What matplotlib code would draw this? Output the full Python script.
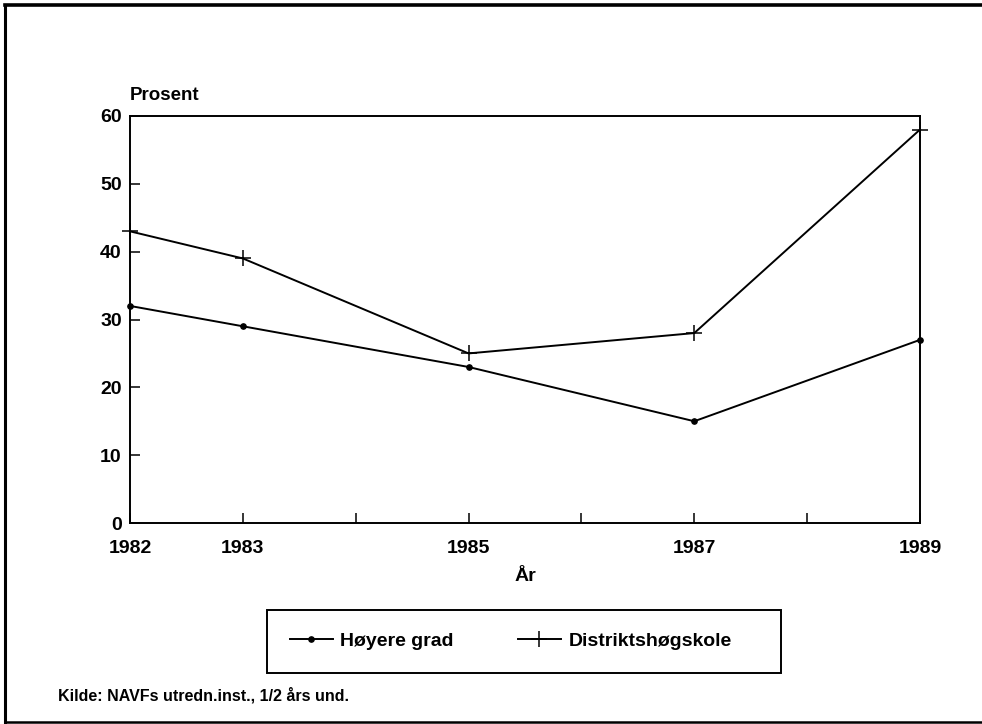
import matplotlib
matplotlib.use("Agg")
import matplotlib.pyplot as plt
from matplotlib.lines import Line2D
from matplotlib.patches import Rectangle

# --- data ---
YEARS = [1982, 1983, 1985, 1987, 1989]
HOYERE_GRAD = [32, 29, 23, 15, 27]
DISTRIKTSHOGSKOLE = [43, 39, 25, 28, 58]

X_TICKS = [1982, 1983, 1984, 1985, 1986, 1987, 1988, 1989]
X_TICK_LABELS = ["1982", "1983", "", "1985", "", "1987", "", "1989"]
Y_TICKS = [0, 10, 20, 30, 40, 50, 60]

W, H = 982, 724
plt.rcParams["font.family"] = ["Liberation Sans", "DejaVu Sans"]
plt.rcParams["font.weight"] = "bold"

fig = plt.figure(figsize=(W / 100, H / 100), dpi=100)
fig.patch.set_facecolor("white")

# axes box in pixel terms: x 130..920, y 116..523
ax = fig.add_axes([130 / W, 1 - 523 / H, (920 - 130) / W, (523 - 116) / H])

ax.plot(YEARS, HOYERE_GRAD, color="black", linewidth=1.4, clip_on=False,
        marker="o", markersize=3.8, label="Høyere grad")
ax.plot(YEARS, DISTRIKTSHOGSKOLE, color="black", linewidth=1.4, clip_on=False,
        marker="+", markersize=12, markeredgewidth=1.1, label="Distriktshøgskole")

ax.set_xlim(1982, 1989)
ax.set_ylim(0, 60)
ax.set_xticks(X_TICKS)
ax.set_xticklabels(X_TICK_LABELS)
ax.set_yticks(Y_TICKS)
ax.tick_params(axis="x", direction="in", length=7, width=1.1, pad=12, labelsize=14)
ax.tick_params(axis="y", direction="in", length=7, width=1.1, pad=6, labelsize=14)
for s in ax.spines.values():
    s.set_linewidth(1.4)

ax.set_xlabel("År", fontsize=14, fontweight="bold", labelpad=8)

fig.text(130 / W, 1 - 96 / H, "Prosent", fontsize=13.5, fontweight="bold", va="center", ha="left")

# legend: box drawn separately, entries placed inside it
fig.add_artist(Rectangle((267 / W, 1 - 673 / H), (781 - 267) / W, (673 - 610) / H,
                         transform=fig.transFigure, fill=False, edgecolor="black", linewidth=1.4))
handles, labels = ax.get_legend_handles_labels()
fig.legend(handles, labels, loc="center left", bbox_to_anchor=(280 / W, 1 - 641 / H),
           ncol=2, frameon=False, numpoints=1, handlelength=2.2, handletextpad=0.4,
           columnspacing=3.3, prop={"size": 14, "weight": "bold"}, borderpad=0)

fig.text(58 / W, 1 - 695 / H, "Kilde: NAVFs utredn.inst., 1/2 års und.",
         fontsize=11.5, fontweight="bold", va="center", ha="left")

# page frame of the scanned box (left, top, bottom edges)
fig.add_artist(Line2D([5 / W, 5 / W], [1 - 5 / H, 1 - 722 / H], color="black", linewidth=2.2))
fig.add_artist(Line2D([5 / W, 1.0], [1 - 5 / H, 1 - 5 / H], color="black", linewidth=2.6))
fig.add_artist(Line2D([5 / W, 1.0], [1 - 722 / H, 1 - 722 / H], color="black", linewidth=1.8))

fig.savefig("out.png", dpi=100)
